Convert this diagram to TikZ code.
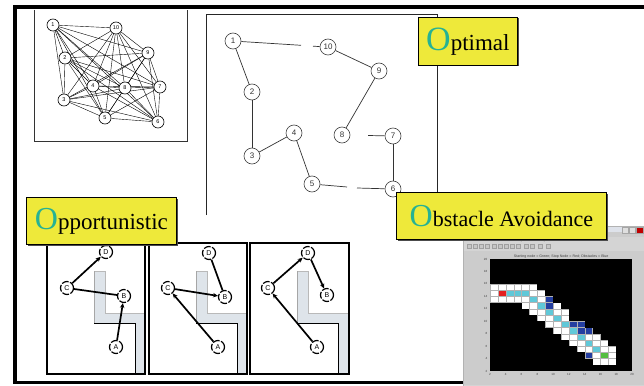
\documentclass[tikz,border=0pt]{standalone}
\usepackage{fontspec}
\setmainfont{Liberation Serif}
\newfontfamily\sansf{Liberation Sans}
\usetikzlibrary{arrows.meta,backgrounds}
\definecolor{lblyellow}{RGB}{238,233,58}
\definecolor{lblteal}{RGB}{38,178,148}
\definecolor{obst}{RGB}{222,228,234}
\definecolor{winbg}{RGB}{212,212,212}
\definecolor{figbg}{RGB}{204,204,204}
\definecolor{titlebar}{RGB}{222,226,234}
\definecolor{cellcyan}{RGB}{96,200,216}
\definecolor{cellblue}{RGB}{36,62,160}
\definecolor{cellred}{RGB}{228,32,32}
\definecolor{cellgreen}{RGB}{84,190,64}
\begin{document}
\begin{tikzpicture}[x=1pt,y=-1pt,
  gnode/.style={circle,draw=black,line width=0.6pt,fill=white,inner sep=0pt,minimum size=12pt,font=\sansf\fontsize{5.5}{5.5}\selectfont},
  gedge/.style={line width=0.4pt,black},
  onode/.style={circle,draw=black!75,line width=0.6pt,fill=white,inner sep=0pt,minimum size=16pt,font=\sansf\fontsize{8}{8}\selectfont,text=black!80},
  oedge/.style={line width=0.7pt,black!80},
  pnode/.style={circle,draw=black,line width=1.2pt,dash pattern=on 7pt off 1.5pt,fill=white,inner sep=0pt,minimum size=13pt,font=\sansf\fontsize{7}{7}\selectfont},
  pedge/.style={line width=1.7pt,black},
  parrow/.style={pedge,-{Stealth[length=5pt,width=4.5pt]}},
  panel/.style={draw=black,line width=1.8pt},
  lblbox/.style={draw=black,line width=0.8pt,fill=lblyellow,inner sep=0pt,anchor=north west},
  lblshadow/.style={fill=black!70},
  tick/.style={font=\sansf\fontsize{3}{3}\selectfont,text=black!75,inner sep=0.5pt},
  cellw/.style={fill=white,draw=gray!60,line width=0.3pt},
  cellc/.style={fill=cellcyan,draw=gray!60,line width=0.3pt},
  cellb/.style={fill=cellblue,draw=gray!60,line width=0.3pt},
  obstfill/.style={fill=obst,draw=gray!55,line width=0.5pt}
]
\useasboundingbox (0,0) rectangle (644,385);
\begin{pgfonlayer}{background}
\fill[white] (0,0) rectangle (644,385);
\end{pgfonlayer}

% outer frame
\draw[line width=4pt] (13,7.5) -- (644,7.5);
\draw[line width=4pt] (15,5.5) -- (15,384);
\draw[line width=3pt] (13,382) -- (463,382);

% complete graph
\draw[line width=0.8pt,black!80] (34,10) -- (34,141) -- (187,141) -- (187,10);
\node[gnode] (g1) at (53,25) {1};
\node[gnode] (g10) at (116,28) {10};
\node[gnode] (g9) at (148,53) {9};
\node[gnode] (g2) at (65,58) {2};
\node[gnode] (g4) at (93,86) {4};
\node[gnode] (g8) at (125,88) {8};
\node[gnode] (g7) at (160,87) {7};
\node[gnode] (g3) at (64,100) {3};
\node[gnode] (g5) at (105,118) {5};
\node[gnode] (g6) at (158,122) {6};
\begin{pgfonlayer}{background}
\foreach \i in {1,...,10}{\foreach \j in {1,...,10}{\ifnum\i<\j\relax \draw[gedge] (g\i) -- (g\j);\fi}}
\end{pgfonlayer}

% optimal tour
\draw[line width=0.8pt,black!85] (206,215) -- (206,14) -- (437,14) -- (437,200);
\node[onode] (o1) at (233,41) {1};
\node[onode] (o10) at (328,47) {10};
\node[onode] (o9) at (379,71) {9};
\node[onode] (o2) at (252,92) {2};
\node[onode] (o4) at (294,133) {4};
\node[onode] (o8) at (342,135) {8};
\node[onode] (o7) at (393,136) {7};
\node[onode] (o3) at (252,156) {3};
\node[onode] (o5) at (312,184) {5};
\node[onode] (o6) at (393,189) {6};
\coordinate (c1a) at (301,45.3);
\coordinate (c1b) at (313,46.2);
\coordinate (c5a) at (347,187);
\coordinate (c5b) at (357,188);
\coordinate (c8a) at (368,135.5);
\draw[oedge] (o1) -- (c1a);
\draw[oedge] (c1b) -- (o10);
\draw[oedge] (o10) -- (o9);
\draw[oedge] (o9) -- (o8);
\draw[oedge] (o1) -- (o2);
\draw[oedge] (o2) -- (o3);
\draw[oedge] (o3) -- (o4);
\draw[oedge] (o4) -- (o5);
\draw[oedge] (o5) -- (c5a);
\draw[oedge] (c5b) -- (o6);
\draw[oedge] (o6) -- (o7);
\draw[oedge] (c8a) -- (o7);

% opportunistic panels
\foreach \px in {47,149,250}{
  \filldraw[obstfill] (\px+47,271) -- (\px+58,271) -- (\px+58,313) -- (\px+98,313) -- (\px+98,374) -- (\px+88,374) -- (\px+88,323) -- (\px+47,323) -- cycle;
  \draw[gray!70,line width=0.8pt] (\px+47,271) -- (\px+47,323);
  \draw[black,line width=1pt] (\px+47,323) -- (\px+88,323) -- (\px+88,374);
}
\draw[panel] (47,243) rectangle (145,374);
\draw[panel] (149,243) rectangle (247,374);
\draw[panel] (250,243) rectangle (349,374);

\node[pnode] (p1d) at (106,252) {D};
\node[pnode] (p1c) at (67,288) {C};
\node[pnode] (p1b) at (124,296) {B};
\node[pnode] (p1a) at (116,347) {A};
\draw[parrow] (p1c) -- (p1d);
\draw[pedge] (p1c) -- (p1b);
\draw[parrow] (p1a) -- (p1b);

\node[pnode] (p2d) at (209,253) {D};
\node[pnode] (p2c) at (168,288) {C};
\node[pnode] (p2b) at (225,297) {B};
\node[pnode] (p2a) at (218,347) {A};
\draw[pedge] (p2d) -- (p2b);
\draw[parrow] (p2c) -- (p2b);
\draw[parrow] (p2a) -- (p2c);

\node[pnode] (p3d) at (308,253) {D};
\node[pnode] (p3c) at (268,288) {C};
\node[pnode] (p3b) at (327,295) {B};
\node[pnode] (p3a) at (317,347) {A};
\draw[parrow] (p3c) -- (p3d);
\draw[parrow] (p3d) -- (p3b);
\draw[parrow] (p3a) -- (p3c);

% matlab window
\filldraw[fill=winbg,draw=gray!60,line width=0.5pt] (463,226) rectangle (645,386);
\fill[titlebar] (463.5,226.5) rectangle (644,232);
\fill[gray!40] (463.5,232) rectangle (644,237);
\filldraw[fill=gray!25,draw=gray!70,line width=0.3pt] (622,227.5) rectangle (628,233);
\filldraw[fill=gray!25,draw=gray!70,line width=0.3pt] (629,227.5) rectangle (635,233);
\filldraw[fill=red!75!black,draw=gray!70,line width=0.3pt] (636,227.5) rectangle (643,233);
\node[tick,anchor=west] (menu) at (465,240.5) {File\quad Edit\quad View\quad Insert\quad Tools\quad Desktop\quad Window\quad Help};
\foreach \ix in {467,473,479,485,492,498,504,510,516,524,530,538,546}{
  \filldraw[fill=gray!45,draw=gray!75,line width=0.25pt] (\ix,244) rectangle ++(4,4);
}
\fill[figbg] (463.5,250.5) rectangle (644,385);
\node[fill=black,draw=none,inner sep=0pt,minimum width=142pt,minimum height=112pt,anchor=north west] (axes) at (490,259) {};
\node[tick,font=\sansf\fontsize{3.6}{3.6}\selectfont,anchor=south] (ptitle) at (axes.north) {Starting node = Green; Stop Node = Red; Obstacles = Blue};
\foreach \t in {2,4,...,20}{
  \node[tick,anchor=east] (yt\t) at ({488},{371-(\t-2)*6.222}) {\t};
  \node[tick,anchor=north] (xt\t) at ({490+(\t-2)*7.889},{373}) {\t};
}
\foreach \cc/\rr in {0/0,1/0,2/0,3/0,4/0,5/0,0/1,5/1,6/1,0/2,1/2,2/2,3/2,4/2,6/2,4/3,5/3,8/3,5/4,6/4,8/4,9/4,6/5,7/5,9/5,7/6,8/6,8/7,9/7,9/8,10/8,12/8,13/8,10/9,11/9,13/9,14/9,11/10,12/10,14/10,15/10,13/11,15/11,13/12,14/12,15/12}
  \draw[cellw] ({490+\cc*7.889},{283.9+\rr*6.222}) rectangle ++(7.889,6.222);
\foreach \cc/\rr in {2/1,3/1,4/1,5/2,6/3,7/4,8/5,9/6,10/7,11/8,12/9,13/10}
  \draw[cellc] ({490+\cc*7.889},{283.9+\rr*6.222}) rectangle ++(7.889,6.222);
\foreach \cc/\rr in {7/2,7/3,10/6,11/6,11/7,12/7,12/11}
  \draw[cellb] ({490+\cc*7.889},{283.9+\rr*6.222}) rectangle ++(7.889,6.222);
\draw[fill=cellred,draw=gray!60,line width=0.3pt] ({490+1*7.889},{283.9+1*6.222}) rectangle ++(7.889,6.222);
\draw[fill=cellgreen,draw=gray!60,line width=0.3pt] ({490+14*7.889},{283.9+11*6.222}) rectangle ++(7.889,6.222);
% black background strips around the band, drawn last
\foreach \xa/\ya/\xb/\yb in {490/259/632/284.0, 537.4/283.9/632/290.1, 545.3/290.1/632/296.3, 553.2/296.3/632/302.6,
  490/302.6/521.5/308.8, 561.1/302.6/632/308.8, 490/308.8/529.4/315.0, 569.0/308.8/632/315.0,
  490/315.0/537.2/321.2, 569.0/315.0/632/321.2, 490/321.2/545.1/327.5, 584.8/321.2/632/327.5,
  490/327.5/553.0/333.7, 592.7/327.5/632/333.7, 490/333.7/560.9/339.9, 600.5/333.7/632/339.9,
  490/339.9/568.8/346.1, 608.4/339.9/632/346.1, 490/346.1/576.7/352.3, 616.3/346.1/632/352.3,
  490/352.3/584.6/358.6, 616.3/352.3/632/358.6, 490/358.6/592.5/364.8, 616.3/358.6/632/364.8,
  490/364.8/632/371}
  \fill[black] (\xa,\ya) rectangle (\xb,\yb);

% labels
\fill[lblshadow] (419.5,18.5) rectangle (519,66.5);
\node[lblbox,minimum width=99pt,minimum height=48pt] (optlbl) at (418,17)
  {\textcolor{lblteal}{\fontsize{34}{34}\selectfont O}\fontsize{23}{23}\selectfont ptimal};
\fill[lblshadow] (27.5,198.5) rectangle (177.5,245.5);
\node[lblbox,minimum width=150pt,minimum height=47pt] (opplbl) at (26,197)
  {\textcolor{lblteal}{\fontsize{32}{32}\selectfont O}\fontsize{23}{23}\selectfont pportunistic};
\fill[lblshadow] (397.5,193.5) rectangle (607.5,240.5);
\node[lblbox,minimum width=210pt,minimum height=47pt] (obslbl) at (396,192)
  {\textcolor{lblteal}{\fontsize{32}{32}\selectfont O}\fontsize{22}{22}\selectfont bstacle Avoidance};
\end{tikzpicture}
\end{document}
